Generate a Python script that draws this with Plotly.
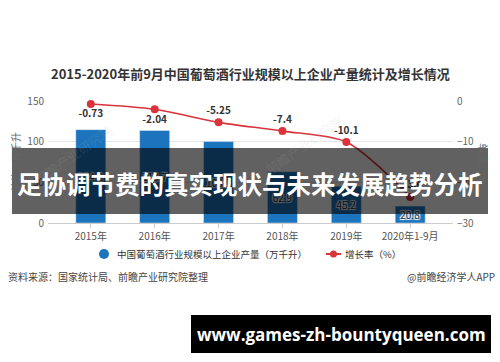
import plotly.graph_objects as go

categories = ["2015年", "2016年", "2017年", "2018年", "2019年", "2020年1-9月"]
output_values = [114.8, 113.7, 100.1, 62.9, 45.2, 20.8]
growth_values = [-0.73, -2.04, -5.25, -7.4, -10.1, -23.6]
growth_labels = ["-0.73", "-2.04", "-5.25", "-7.4", "-10.1", "-23.6"]
left_ticks = [0, 50, 100, 150]
right_ticks = [-30, -20, -10, 0]

W, H = 500, 362
L, R, T, B = 48, 47, 101, 139
PW, PH = W - L - R, H - T - B


def px(x):
    return (x - L) / PW


def py(y):
    return (H - B - y) / PH


FONT = "Noto Sans CJK SC, Noto Sans, sans-serif"
BLUE = "#1b74bd"
RED = "#d9343c"

fig = go.Figure()
fig.add_trace(go.Bar(
    x=categories, y=output_values, width=0.47, marker_color=BLUE,
    texttemplate="%{y}", textposition="inside", insidetextanchor="middle",
    constraintext="none", textangle=0,
    textfont=dict(color="#333333", size=10, family=FONT,
                  shadow="1px 1px 1px #ffffff, -1px -1px 1px #ffffff, 1px -1px 1px #ffffff, -1px 1px 1px #ffffff"),
    showlegend=False, yaxis="y", hoverinfo="skip",
))
fig.add_trace(go.Scatter(
    x=categories, y=growth_values, yaxis="y2", mode="lines+markers+text",
    line=dict(color=RED, width=1.6, shape="spline", smoothing=0.8),
    marker=dict(color=RED, size=8),
    text=[f"<b>{t}</b>" for t in growth_labels],
    textposition=["bottom center", "bottom center", "top center", "top center", "top center", "top center"],
    textfont=dict(color="#333333", size=10, family=FONT),
    showlegend=False, cliponaxis=False, hoverinfo="skip",
))

shapes = []
annotations = []

# title
annotations.append(dict(
    text="<b>2015-2020年前9月中国葡萄酒行业规模以上企业产量统计及增长情况</b>",
    xref="paper", yref="paper", x=px(250), y=py(73), showarrow=False,
    xanchor="center", yanchor="middle", font=dict(size=13, color="#333333", family=FONT)))

# axis titles
annotations.append(dict(text="单位：万千升", xref="paper", yref="paper", x=px(15), y=0.5,
                        showarrow=False, textangle=-90, xanchor="center", yanchor="middle",
                        font=dict(size=10, color="#666666", family=FONT)))
annotations.append(dict(text="单位：%", xref="paper", yref="paper", x=px(484), y=0.5,
                        showarrow=False, textangle=90, xanchor="center", yanchor="middle",
                        font=dict(size=10, color="#666666", family=FONT)))

# legend (manual)
shapes.append(dict(type="circle", xref="paper", yref="paper",
                   x0=px(99), x1=px(109), y0=py(259), y1=py(249),
                   fillcolor=BLUE, line=dict(width=0)))
annotations.append(dict(text="中国葡萄酒行业规模以上企业产量（万千升）", xref="paper", yref="paper",
                        x=px(115), y=py(254), showarrow=False, xanchor="left", yanchor="middle",
                        font=dict(size=9.5, color="#333333", family=FONT)))
shapes.append(dict(type="line", xref="paper", yref="paper",
                   x0=px(326), x1=px(341), y0=py(254), y1=py(254),
                   line=dict(color=RED, width=2)))
shapes.append(dict(type="circle", xref="paper", yref="paper",
                   x0=px(330), x1=px(337), y0=py(257.5), y1=py(250.5),
                   fillcolor=RED, line=dict(width=0)))
annotations.append(dict(text="增长率（%）", xref="paper", yref="paper",
                        x=px(343), y=py(254), showarrow=False, xanchor="left", yanchor="middle",
                        font=dict(size=9.5, color="#333333", family=FONT)))

# source lines
annotations.append(dict(text="资料来源：国家统计局、前瞻产业研究院整理", xref="paper", yref="paper",
                        x=px(6), y=py(276), showarrow=False, xanchor="left", yanchor="middle",
                        font=dict(size=10, color="#444444", family=FONT)))
annotations.append(dict(text="@前瞻经济学人APP", xref="paper", yref="paper",
                        x=px(497), y=py(276), showarrow=False, xanchor="right", yanchor="middle",
                        font=dict(size=10, color="#444444", family=FONT)))

# faint watermarks
for wx, wy in [(28, 118), (350, 108)]:
    annotations.append(dict(text="前瞻产业研究院", xref="paper", yref="paper",
                            x=px(wx), y=py(wy), showarrow=False, textangle=-35,
                            font=dict(size=13, color="rgba(180,180,180,0.15)", family=FONT)))

# overlay banner
shapes.append(dict(type="rect", xref="paper", yref="paper", layer="above",
                   x0=px(12), x1=px(488), y0=py(214), y1=py(148),
                   fillcolor="rgba(0,0,0,0.62)", line=dict(width=0)))
annotations.append(dict(text="<b>足协调节费的真实现状与未来发展趋势分析</b>", xref="paper", yref="paper",
                        x=px(250), y=py(183), showarrow=False, xanchor="center", yanchor="middle",
                        font=dict(size=24.5, color="#ffffff", family=FONT)))

# bottom url banner
shapes.append(dict(type="rect", xref="paper", yref="paper", layer="above",
                   x0=px(191), x1=px(491), y0=py(353), y1=py(315),
                   fillcolor="#000000", line=dict(width=0)))
annotations.append(dict(text="<b>www.games-zh-bountyqueen.com</b>", xref="paper", yref="paper",
                        x=px(341), y=py(334), showarrow=False, xanchor="center", yanchor="middle",
                        font=dict(size=17, color="#ffffff", family="Open Sans, sans-serif")))

fig.update_layout(
    width=W, height=H, margin=dict(l=L, r=R, t=T, b=B, pad=0),
    paper_bgcolor="#ffffff", plot_bgcolor="#ffffff",
    font=dict(family=FONT, color="#555555", size=10),
    bargap=0.5, hovermode=False,
    xaxis=dict(range=[-0.67, 5.67], showline=True, linecolor="#cccccc", linewidth=1,
               ticks="outside", ticklen=4, tickcolor="#cccccc",
               tickfont=dict(size=10, color="#555555"), showgrid=False, fixedrange=True),
    yaxis=dict(range=[0, 150], tickvals=left_ticks, showgrid=True, gridcolor="#e6e6e6",
               zeroline=False, tickfont=dict(size=10, color="#666666"), ticklabelstandoff=3),
    yaxis2=dict(range=[-30, 0], tickvals=right_ticks, overlaying="y", side="right",
                showgrid=False, zeroline=False, tickfont=dict(size=10, color="#666666"),
                ticklabelstandoff=3),
    shapes=shapes, annotations=annotations, showlegend=False,
)

fig.write_html("out.html", config={"displayModeBar": False},
               post_script="document.body.style.margin='0px';document.body.style.overflow='hidden';")
